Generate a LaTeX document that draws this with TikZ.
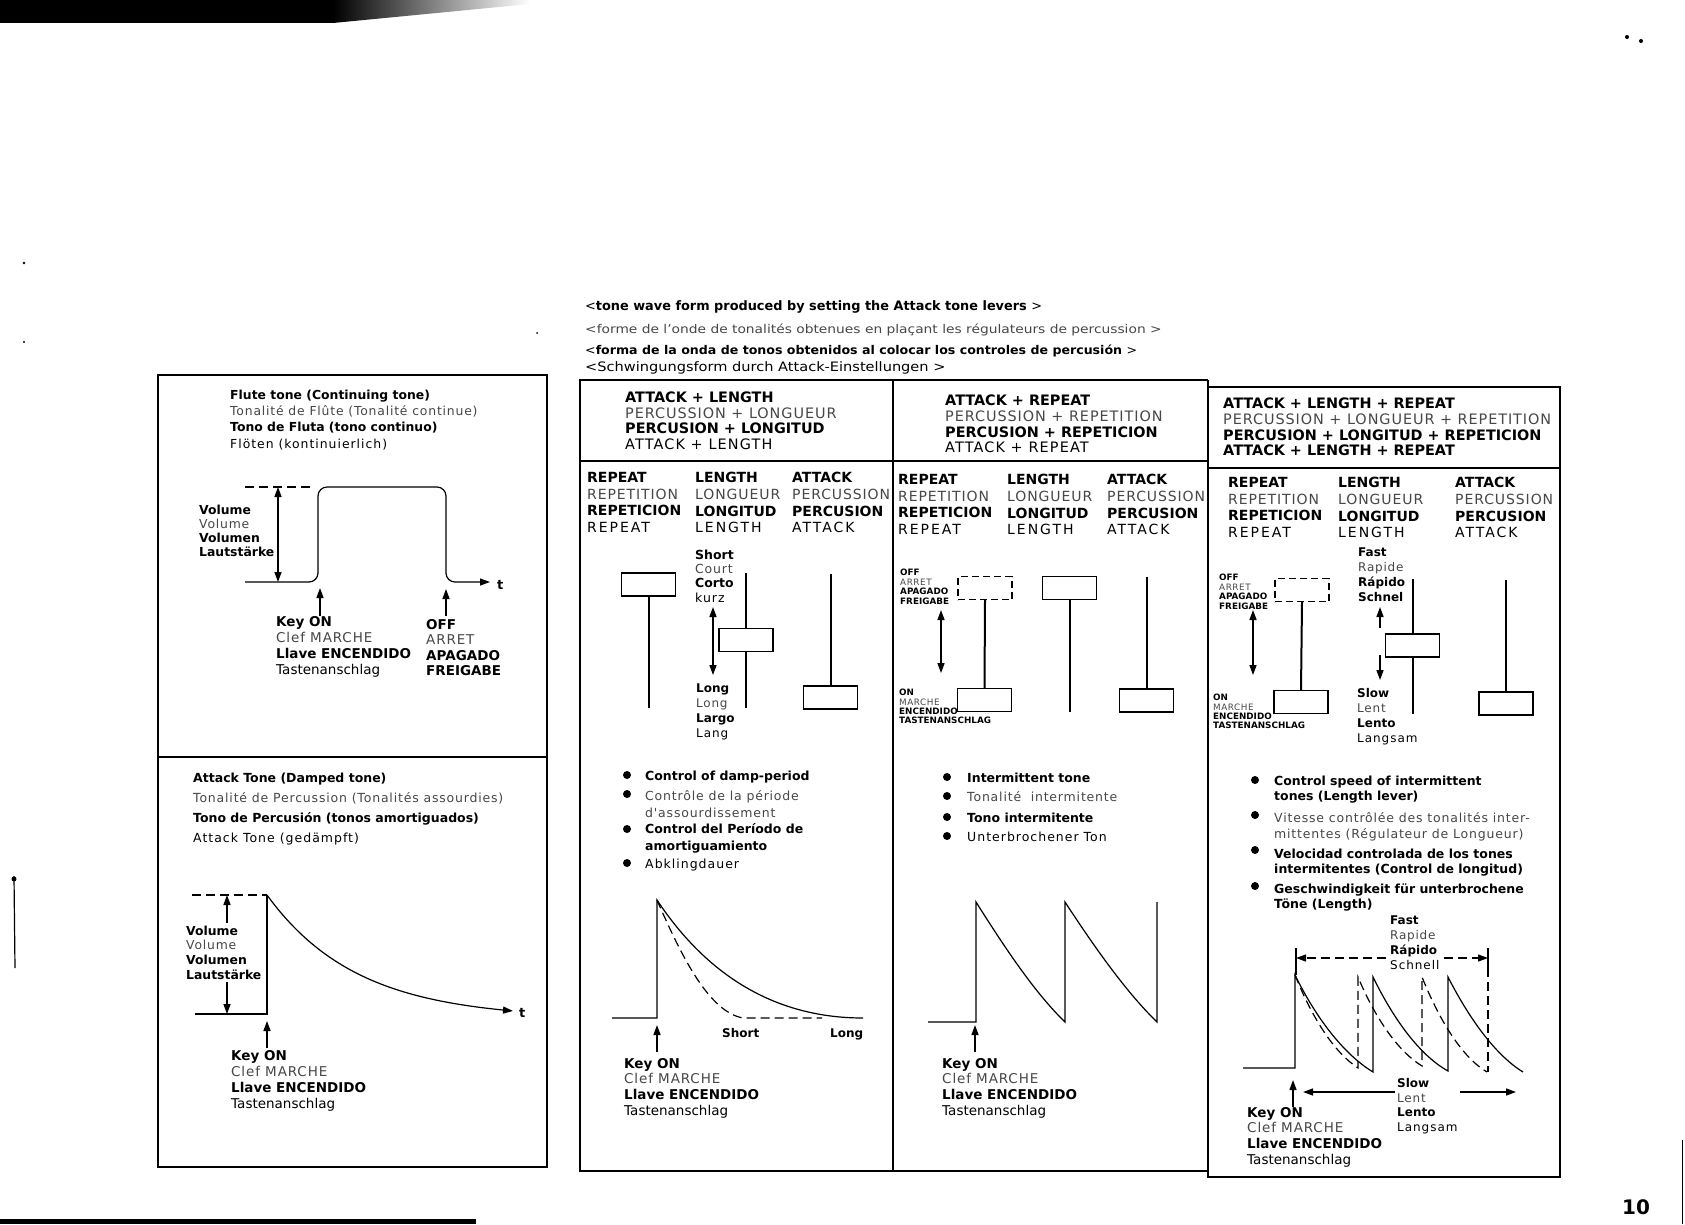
\documentclass[tikz,border=0pt]{standalone}
\usepackage{fontspec}
\setmainfont{DejaVu Sans}
\newfontfamily\lightfam[LetterSpace=6.5]{DejaVu Sans}
\newfontfamily\medfam[LetterSpace=8]{DejaVu Sans}
\newfontfamily\medwfam[LetterSpace=14]{DejaVu Sans}
\usetikzlibrary{arrows.meta}
\newcommand\lgt{\lightfam\color{black!72}}
\newcommand\lgtn{\mdseries\color{black!72}}
\newcommand\mdm{\medfam}
\newcommand\mdmw{\medwfam}
\newcommand\fsz[2]{\fontsize{#1}{#2}\selectfont}
\tikzset{
 tx/.style={align=left, inner sep=0pt, anchor=north west},
 frm/.style={line width=1.5pt},
 wv/.style={line width=1.2pt},
 dsh/.style={line width=1.2pt, dash pattern=on 9pt off 5pt},
 lv/.style={draw, line width=1.3pt, minimum width=54pt, minimum height=23pt, inner sep=0pt, fill=white},
 lvd/.style={lv, dash pattern=on 7pt off 4pt},
 stm/.style={line width=2pt},
 ar/.style={line width=1.4pt, -{Triangle[length=10pt,width=7pt]}},
 dar/.style={line width=1.4pt, {Triangle[length=10pt,width=7pt]}-{Triangle[length=10pt,width=7pt]}},
 bul/.style={circle, fill, inner sep=0pt, minimum size=8pt},
}
\begin{document}
\begin{tikzpicture}[x=1pt,y=-1pt]
\useasboundingbox (0,0) rectangle (1685,1224);
\fill[white] (0,0) rectangle (1685,1224);
% scan artefacts
\fill (0,0) rectangle (333,23);
\shade[left color=black, right color=white] (333,0) -- (530,0) -- (530,4) -- (333,23) -- cycle;
\fill (0,1219) rectangle (476,1224);
\draw[line width=1.2pt] (14,876) -- (15,968);
\fill (14,879) circle (2.5);
\fill (24,263) circle (1.3);
\fill (24,342) circle (1.2);
\fill (537,333) circle (1);
\fill (1627,37) circle (2);
\fill (1641,41) circle (2);
\draw[line width=0.8pt] (1682,1140) -- (1682,1224);

% ---------------- frames
\draw[frm] (158,375) rectangle (547,1167);
\draw[frm] (158,757) -- (547,757);
\draw[frm] (1208,380) -- (580,380) -- (580,1171) -- (1208,1171);
\draw[frm] (893,380) -- (893,1171);
\draw[frm] (580,461) -- (1208,461);
\draw[frm] (1208,380) -- (1208,1177) -- (1560,1177) -- (1560,387) -- (1208,387);
\draw[frm] (1208,468) -- (1560,468);

% ---------------- headings
\node[tx, font=\fsz{13}{15}] (h1) at (585,300) {\bfseries\addfontfeature{FakeStretch=0.99}{\mdseries<}tone wave form produced by setting the Attack tone levers\ {\mdseries>}};
\node[tx, font=\fsz{12}{14}] (h2) at (585,323.6) {\lgtn\addfontfeature{FakeStretch=1.15}<forme de l'onde de tonalités obtenues en plaçant les régulateurs de percussion >};
\node[tx, font=\fsz{12}{14}] (h3) at (585,344.6) {\bfseries\addfontfeature{FakeStretch=1.05}{\mdseries<}forma de la onda de tonos obtenidos al colocar los controles de percusión {\mdseries>}};
\node[tx, font=\fsz{13}{15}] (h4) at (585,361) {\addfontfeature{FakeStretch=1.12}<Schwingungsform durch Attack-Einstellungen\ >};

% ---------------- left top: flute
\node[tx, font=\fsz{12.4}{16.3}] (flt) at (230,389.5) {{\bfseries Flute tone (Continuing tone)}\\{\lgt Tonalité de Flûte (Tonalité continue)}\\{\bfseries Tono de Fluta (tono continuo)}\\{\mdm Flöten (kontinuierlich)}};
\draw[dsh] (245,487) -- (314,487);
\draw[wv, rounded corners=9pt, -{Triangle[length=10pt,width=7pt]}] (245,582) -- (318,582) -- (318,487) -- (446,487) -- (446,582) -- (490,582);
\node[anchor=west, inner sep=0pt, font=\fsz{13}{15}\bfseries] (t1) at (497,585) {t};
\coordinate (fv1) at (278,487); \coordinate (fv2) at (278,582);
\draw[dar] (fv1) -- (fv2);
\node[tx, font=\fsz{12.4}{14}] (vol1) at (199,504.5) {{\bfseries Volume}\\{\lgt Volume}\\{\bfseries Volumen}\\{\bfseries Lautstärke}};
\coordinate (fk1) at (320,616); \coordinate (fk2) at (320,588);
\draw[ar] (fk1) -- (fk2);
\coordinate (fo1) at (446,616); \coordinate (fo2) at (446,589);
\draw[ar] (fo1) -- (fo2);
\node[tx, font=\fsz{13.5}{16}] (kon1) at (276,616) {{\bfseries Key ON}\\{\lgt Clef MARCHE}\\{\bfseries Llave ENCENDIDO}\\Tastenanschlag};
\node[tx, font=\fsz{13.5}{15.5}] (off1) at (426,619) {{\bfseries OFF}\\{\lgt ARRET}\\{\bfseries APAGADO}\\{\bfseries FREIGABE}};

% ---------------- left bottom: attack
\node[tx, font=\fsz{12.5}{20}] (att) at (193,772.5) {{\bfseries Attack Tone (Damped tone)}\\{\lgt Tonalité de Percussion (Tonalités assourdies)}\\{\bfseries Tono de Percusión (tonos amortiguados)}\\{\mdm Attack Tone (gedämpft)}};
\draw[dsh] (192,895) -- (267,895);
\draw[wv] (195,1014) -- (267,1014) -- (267,895);
\draw[wv, -{Triangle[length=10pt,width=7pt]}] plot[domain=267:513, samples=80, smooth] (\x,{1019-124*exp(-(\x-267)/90)});
\node[anchor=west, inner sep=0pt, font=\fsz{13}{15}\bfseries] (t2) at (519,1013) {t};
\coordinate (va1) at (227,923); \coordinate (va2) at (227,895);
\coordinate (va3) at (227,982); \coordinate (va4) at (227,1014);
\draw[ar] (va1) -- (va2);
\draw[ar] (va3) -- (va4);
\node[tx, font=\fsz{12.4}{14.7}] (vol2) at (186,925.5) {{\bfseries Volume}\\{\lgt Volume}\\{\bfseries Volumen}\\{\bfseries Lautstärke}};
\coordinate (ak1) at (267,1048); \coordinate (ak2) at (267,1021);
\draw[ar] (ak1) -- (ak2);
\node[tx, font=\fsz{13.5}{16}] (kon2) at (231,1050) {{\bfseries Key ON}\\{\lgt Clef MARCHE}\\{\bfseries Llave ENCENDIDO}\\Tastenanschlag};

% ---------------- column headers
\node[tx, font=\fsz{14.4}{15.5}] (hd1) at (625,392) {{\bfseries ATTACK + LENGTH}\\{\lgt PERCUSSION + LONGUEUR}\\{\bfseries PERCUSION + LONGITUD}\\{\mdm ATTACK + LENGTH}};
\node[tx, font=\fsz{14.4}{15.7}] (hd2) at (945,395) {{\bfseries ATTACK + REPEAT}\\{\lgt PERCUSSION + REPETITION}\\{\bfseries PERCUSION + REPETICION}\\{\mdm ATTACK + REPEAT}};
\node[tx, font=\fsz{14.4}{15.7}] (hd3) at (1223,398) {{\bfseries ATTACK + LENGTH + REPEAT}\\{\lgt PERCUSSION + LONGUEUR + REPETITION}\\{\bfseries PERCUSION + LONGITUD + REPETICION}\\{\bfseries ATTACK + LENGTH + REPEAT}};

% ---------------- lever labels
\foreach \cx/\cy/\nm in {587/472/1, 898/474/2, 1228/477/3}{
  \node[tx, font=\fsz{14}{16.7}] (cr\nm) at (\cx,\cy) {{\bfseries REPEAT}\\{\lgt REPETITION}\\{\bfseries REPETICION}\\{\mdmw REPEAT}};
}
\foreach \cx/\cy/\nm in {695/472/1, 1007/474/2, 1338/477/3}{
  \node[tx, font=\fsz{14}{16.7}] (cl\nm) at (\cx,\cy) {{\bfseries LENGTH}\\{\lgt LONGUEUR}\\{\bfseries LONGITUD}\\{\mdmw LENGTH}};
}
\foreach \cx/\cy/\nm in {792/472/1, 1107/474/2, 1455/477/3}{
  \node[tx, font=\fsz{14}{16.7}] (ca\nm) at (\cx,\cy) {{\bfseries ATTACK}\\{\lgt PERCUSSION}\\{\bfseries PERCUSION}\\{\mdmw ATTACK}};
}

% ---------------- levers col 1
\node[lv] (r1) at (648.5,584.5) {};
\coordinate (r1b) at (648.5,708);
\draw[stm] (r1.south) -- (r1b);
\node[lv] (n1) at (746,640) {};
\coordinate (n1t) at (746,573); \coordinate (n1b) at (746,708);
\draw[stm] (n1t) -- (n1.north);
\draw[stm] (n1.south) -- (n1b);
\coordinate (n1a) at (713,607); \coordinate (n1c) at (713,675);
\draw[dar] (n1a) -- (n1c);
\node[lv] (a1) at (830.5,697.5) {};
\coordinate (a1t) at (830.5,574);
\draw[stm] (a1t) -- (a1.north);
\node[tx, font=\fsz{12.5}{14.3}] (sh1) at (695,549.5) {{\bfseries Short}\\{\lgt Court}\\{\bfseries Corto}\\{\mdm kurz}};
\node[tx, font=\fsz{12}{15}] (lg1) at (696,683.6) {{\bfseries Long}\\{\lgt Long}\\{\bfseries Largo}\\{\mdm Lang}};

% ---------------- levers col 2
\node[lvd] (r2o) at (985,588) {};
\node[lv] (r2) at (984.5,700) {};
\draw[stm] (r2o.south) -- (r2.north);
\coordinate (r2a) at (941,610); \coordinate (r2c) at (941,673);
\draw[dar] (r2a) -- (r2c);
\node[lv] (n2) at (1069.5,588) {};
\coordinate (n2b) at (1069.5,712);
\draw[stm] (n2.south) -- (n2b);
\node[lv] (a2) at (1146.5,700.5) {};
\coordinate (a2t) at (1146.5,577);
\draw[stm] (a2t) -- (a2.north);
\node[tx, font=\fsz{8.8}{9.5}] (of2) at (900,569) {{\bfseries OFF}\\{\lgt ARRET}\\{\bfseries APAGADO}\\{\bfseries FREIGABE}};
\node[tx, font=\fsz{8.8}{9.3}] (on2) at (899,689) {{\bfseries ON}\\{\lgt MARCHE}\\{\bfseries ENCENDIDO}\\{\bfseries TASTENANSCHLAG}};

% ---------------- levers col 3
\node[lvd] (r3o) at (1302,590) {};
\node[lv] (r3) at (1301,702) {};
\draw[stm] (r3o.south) -- (r3.north);
\coordinate (r3a) at (1253,610); \coordinate (r3c) at (1253,675);
\draw[dar] (r3a) -- (r3c);
\node[lv] (n3) at (1412.5,645.5) {};
\coordinate (n3t) at (1412.5,579); \coordinate (n3b) at (1412.5,714);
\draw[stm] (n3t) -- (n3.north);
\draw[stm] (n3.south) -- (n3b);
\coordinate (n3u1) at (1380,628); \coordinate (n3u2) at (1380,607);
\coordinate (n3d1) at (1380,655); \coordinate (n3d2) at (1380,680);
\draw[ar] (n3u1) -- (n3u2);
\draw[ar] (n3d1) -- (n3d2);
\node[lv] (a3) at (1506,703.5) {};
\coordinate (a3t) at (1506,580);
\draw[stm] (a3t) -- (a3.north);
\node[tx, font=\fsz{8.8}{9.5}] (of3) at (1219,574) {{\bfseries OFF}\\{\lgt ARRET}\\{\bfseries APAGADO}\\{\bfseries FREIGABE}};
\node[tx, font=\fsz{8.8}{9.3}] (on3) at (1213,694) {{\bfseries ON}\\{\lgt MARCHE}\\{\bfseries ENCENDIDO}\\{\bfseries TASTENANSCHLAG}};
\node[tx, font=\fsz{12}{15}] (fs3) at (1358,547.6) {{\bfseries Fast}\\{\lgt Rapide}\\{\bfseries Rápido}\\{\bfseries Schnel}};
\node[tx, font=\fsz{12}{14.7}] (sl3) at (1357,688.6) {{\bfseries Slow}\\{\lgt Lent}\\{\bfseries Lento}\\{\mdm Langsam}};

% ---------------- bullets col 1
\node[bul] (b11) at (627,775) {};
\node[bul] (b12) at (627,794) {};
\node[bul] (b13) at (627,829) {};
\node[bul] (b14) at (627,863) {};
\node[tx, font=\fsz{12.5}{16.5}\bfseries] (t11) at (645,770.4) {Control of damp-period};
\node[tx, font=\fsz{12.5}{16.5}\lightfam, text=black!72] (t12) at (645,790.4) {Contrôle de la période\\d'assourdissement};
\node[tx, font=\fsz{12.5}{16.5}\bfseries] (t13) at (645,823.4) {Control del Período de\\amortiguamiento};
\node[tx, font=\fsz{12.5}{16.5}\medfam] (t14) at (645,858.4) {Abklingdauer};

% wave col 1
\draw[wv] (612,1018) -- (657,1018) -- (657,900) .. controls (700,965) and (765,1018) .. (863,1018);
\draw[dsh] (657,900) .. controls (683,960) and (710,1012) .. (743,1018) -- (822,1018);
\node[tx, font=\fsz{12}{14}\bfseries] (sh2) at (722,1028.6) {Short};
\node[tx, font=\fsz{12}{14}\bfseries] (lg2) at (830,1028.6) {Long};
\coordinate (k1a) at (657,1052); \coordinate (k1b) at (657,1025);
\draw[ar] (k1a) -- (k1b);
\node[tx, font=\fsz{13.5}{15.7}] (kon3) at (624,1058) {{\bfseries Key ON}\\{\lgt Clef MARCHE}\\{\bfseries Llave ENCENDIDO}\\Tastenanschlag};

% ---------------- bullets col 2
\node[bul] (b21) at (947,777) {};
\node[bul] (b22) at (947,796) {};
\node[bul] (b23) at (947,817) {};
\node[bul] (b24) at (947,836) {};
\node[tx, font=\fsz{12.5}{16.5}\bfseries] (t21) at (967,772.4) {Intermittent tone};
\node[tx, font=\fsz{12.5}{16.5}\lightfam, text=black!72] (t22) at (967,791.4) {Tonalité\ \ intermitente};
\node[tx, font=\fsz{12.5}{16.5}\bfseries] (t23) at (967,812.4) {Tono intermitente};
\node[tx, font=\fsz{12.5}{16.5}\medfam] (t24) at (967,831.4) {Unterbrochener Ton};

% wave col 2
\draw[wv] (928,1022) -- (976,1022) -- (976,902) .. controls (1005,948) and (1035,993) .. (1065,1022) -- (1065,902) .. controls (1095,948) and (1127,993) .. (1157,1022) -- (1157,902);
\coordinate (k2a) at (975,1052); \coordinate (k2b) at (975,1025);
\draw[ar] (k2a) -- (k2b);
\node[tx, font=\fsz{13.5}{15.7}] (kon4) at (942,1058) {{\bfseries Key ON}\\{\lgt Clef MARCHE}\\{\bfseries Llave ENCENDIDO}\\Tastenanschlag};

% ---------------- bullets col 3
\node[bul] (b31) at (1255,780) {};
\node[bul] (b32) at (1255,815) {};
\node[bul] (b33) at (1255,850) {};
\node[bul] (b34) at (1255,886) {};
\node[tx, font=\fsz{12.5}{15.5}\bfseries] (t31) at (1274,775.4) {Control speed of intermittent\\tones (Length lever)};
\node[tx, font=\fsz{12.5}{15.5}\lightfam, text=black!72] (t32) at (1274,812.4) {Vitesse contrôlée des tonalités inter-\\mittentes (Régulateur de Longueur)};
\node[tx, font=\fsz{12.5}{15.5}\bfseries] (t33) at (1274,848.4) {Velocidad controlada de los tones\\intermitentes (Control de longitud)};
\node[tx, font=\fsz{12.5}{15.5}\bfseries] (t34) at (1274,883.4) {Geschwindigkeit für unterbrochene\\Töne (Length)};

% wave col 3
\draw[wv] (1243,1068) -- (1295,1068) -- (1295,975) .. controls (1317,1020) and (1345,1055) .. (1373,1072) -- (1373,977) .. controls (1395,1022) and (1421,1056) .. (1448,1071) -- (1448,977) .. controls (1471,1022) and (1497,1056) .. (1523,1072);
\draw[dsh] (1295,975) .. controls (1313,1020) and (1335,1053) .. (1358,1068) -- (1358,977) .. controls (1376,1020) and (1399,1052) .. (1422,1066) -- (1422,977) .. controls (1440,1022) and (1463,1058) .. (1487,1072);
\draw[wv] (1296,948) -- (1296,975);
\draw[wv] (1488,948) -- (1488,968);
\draw[dsh] (1488,968) -- (1488,1072);
\node[tx, font=\fsz{12}{15}] (fs4) at (1390,915.6) {{\bfseries Fast}\\{\lgt Rapide}\\{\bfseries Rápido}\\{\mdm Schnell}};
\coordinate (fa1) at (1386,958); \coordinate (fa2) at (1296,958);
\coordinate (fa3) at (1444,958); \coordinate (fa4) at (1488,958);
\draw[dsh, -{Triangle[length=10pt,width=7pt]}] (fa1) -- (fa2);
\draw[dsh, -{Triangle[length=10pt,width=7pt]}] (fa3) -- (fa4);
\node[tx, font=\fsz{12}{14.5}] (sl4) at (1397,1078.6) {{\bfseries Slow}\\{\lgt Lent}\\{\bfseries Lento}\\{\mdm Langsam}};
\coordinate (sa1) at (1395,1092); \coordinate (sa2) at (1303,1092);
\coordinate (sa3) at (1460,1092); \coordinate (sa4) at (1516,1092);
\draw[ar] (sa1) -- (sa2);
\draw[ar] (sa3) -- (sa4);
\coordinate (k3a) at (1293,1107); \coordinate (k3b) at (1293,1080);
\draw[ar] (k3a) -- (k3b);
\node[tx, font=\fsz{13.5}{15.7}] (kon5) at (1247,1107) {{\bfseries Key ON}\\{\lgt Clef MARCHE}\\{\bfseries Llave ENCENDIDO}\\Tastenanschlag};

% page number
\node[inner sep=0pt, font=\fsz{20}{22}\bfseries] (pg) at (1636,1207) {10};
\end{tikzpicture}
\end{document}
